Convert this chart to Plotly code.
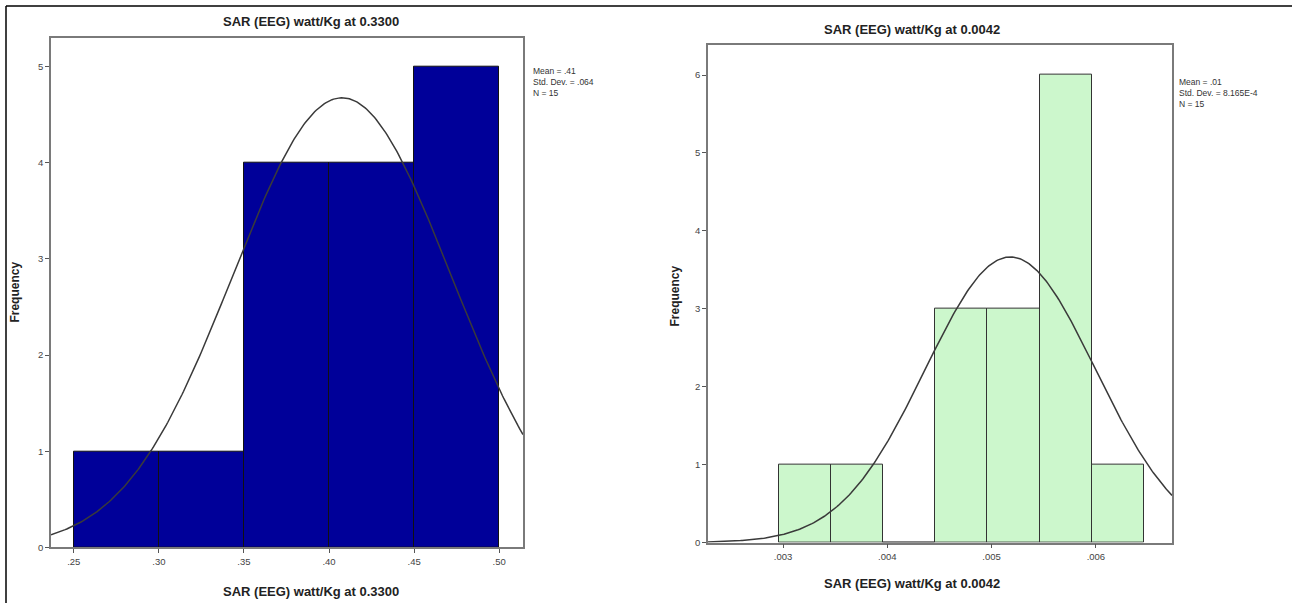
import numpy as np
import plotly.graph_objects as go

# ---------------- data ----------------
left_bin_starts = [0.25, 0.30, 0.35, 0.40, 0.45]
left_bin_width = 0.05
left_counts = [1, 1, 4, 4, 5]
left_mean, left_sd, left_n = 0.4076, 0.064, 15
left_stats = ["Mean = .41", "Std. Dev. = .064", "N = 15"]
left_xticks = [0.25, 0.30, 0.35, 0.40, 0.45, 0.50]
left_xticktext = [".25", ".30", ".35", ".40", ".45", ".50"]
left_yticks = [0, 1, 2, 3, 4, 5]
left_title = "SAR (EEG) watt/Kg at 0.3300"

right_bin_starts = [0.00296, 0.00346, 0.00396, 0.00446, 0.00496, 0.00546, 0.00596]
right_bin_width = 0.0005
right_counts = [1, 1, 0, 3, 3, 6, 1]
right_mean, right_sd, right_n = 0.00518, 0.0008165, 15
right_stats = ["Mean = .01", "Std. Dev. = 8.165E-4", "N = 15"]
right_xticks = [0.003, 0.004, 0.005, 0.006]
right_xticktext = [".003", ".004", ".005", ".006"]
right_yticks = [0, 1, 2, 3, 4, 5, 6]
right_title = "SAR (EEG) watt/Kg at 0.0042"

W, H = 1292, 608
FONT = "Liberation Sans, Arial, sans-serif"

def px(x):
    return x / W

def py(y):
    return 1 - y / H

left_xrange = [0.2366, 0.5140]
left_yrange = [0, 5.30]
right_xrange = [0.00228, 0.00673]
right_yrange = [0, 6.39]

fig = go.Figure()

# bars
fig.add_trace(go.Bar(
    x=[s + left_bin_width / 2 for s in left_bin_starts], y=left_counts,
    width=[left_bin_width] * len(left_counts),
    marker=dict(color="#000099", line=dict(color="#111111", width=1)),
    xaxis="x", yaxis="y", showlegend=False, hoverinfo="skip"))
fig.add_trace(go.Bar(
    x=[s + right_bin_width / 2 for s in right_bin_starts], y=right_counts,
    width=[right_bin_width] * len(right_counts),
    marker=dict(color="#ccf7cc", line=dict(color="#333333", width=1)),
    xaxis="x2", yaxis="y2", showlegend=False, hoverinfo="skip"))

# normal curves
def normal_curve(xr, mean, sd, n, bw):
    xs = np.linspace(xr[0], xr[1], 300)
    ys = n * bw / (sd * np.sqrt(2 * np.pi)) * np.exp(-0.5 * ((xs - mean) / sd) ** 2)
    return xs, ys

xs, ys = normal_curve(left_xrange, left_mean, left_sd, left_n, left_bin_width)
fig.add_trace(go.Scatter(x=xs, y=ys, mode="lines", line=dict(color="#3a3a3a", width=1.5),
                         xaxis="x", yaxis="y", showlegend=False, hoverinfo="skip"))
xs, ys = normal_curve(right_xrange, right_mean, right_sd, right_n, right_bin_width)
fig.add_trace(go.Scatter(x=xs, y=ys, mode="lines", line=dict(color="#3a3a3a", width=1.5),
                         xaxis="x2", yaxis="y2", showlegend=False, hoverinfo="skip"))

axis_common = dict(showgrid=False, zeroline=False, showline=True, linecolor="#7a7a7a",
                   linewidth=1.5, mirror=True, ticks="outside", ticklen=4, tickcolor="#555",
                   tickfont=dict(family=FONT, size=9.5, color="#444"))

fig.update_layout(
    width=W, height=H,
    margin=dict(l=0, r=0, t=0, b=0),
    paper_bgcolor="white", plot_bgcolor="white",
    bargap=0,
    xaxis=dict(domain=[px(51), px(523)], range=left_xrange, anchor="y",
               tickvals=left_xticks, ticktext=left_xticktext, **axis_common),
    yaxis=dict(domain=[py(552), py(38)], range=left_yrange, anchor="x",
               tickvals=left_yticks, **axis_common),
    xaxis2=dict(domain=[px(708), px(1172)], range=right_xrange, anchor="y2",
                tickvals=right_xticks, ticktext=right_xticktext, **axis_common),
    yaxis2=dict(domain=[py(547), py(45)], range=right_yrange, anchor="x2",
                tickvals=right_yticks, **axis_common),
)

def ann(x, y, text, size, bold=True, angle=0, xanchor="center", yanchor="middle", align="center"):
    t = f"<b>{text}</b>" if bold else text
    fig.add_annotation(x=px(x), y=py(y), xref="paper", yref="paper", text=t,
                       showarrow=False, textangle=angle, xanchor=xanchor, yanchor=yanchor,
                       align=align, font=dict(family=FONT, size=size, color="#222"))

# titles
ann(311, 22, left_title, 13)
ann(311, 596, left_title, 13)
ann(912, 30, right_title, 13)
ann(912, 588, right_title, 13)
ann(15, 295, "Frequency", 12, angle=-90)
ann(675, 299, "Frequency", 12, angle=-90)

# stats
fig.add_annotation(x=px(531), y=py(65), xref="paper", yref="paper",
                   text="<br>".join(left_stats), showarrow=False, xanchor="left", yanchor="top",
                   align="left", font=dict(family=FONT, size=8.5, color="#333"))
fig.add_annotation(x=px(1177), y=py(76), xref="paper", yref="paper",
                   text="<br>".join(right_stats), showarrow=False, xanchor="left", yanchor="top",
                   align="left", font=dict(family=FONT, size=8.5, color="#333"))

# outer border lines
fig.add_shape(type="line", xref="paper", yref="paper", x0=px(6), x1=px(6), y0=0, y1=py(6),
              line=dict(color="black", width=1.5))
fig.add_shape(type="line", xref="paper", yref="paper", x0=px(6), x1=1, y0=py(6), y1=py(6),
              line=dict(color="black", width=1.5))

fig.write_html("out.html", config={"displayModeBar": False},
               post_script="document.body.style.margin='0';document.body.style.overflow='hidden';")
